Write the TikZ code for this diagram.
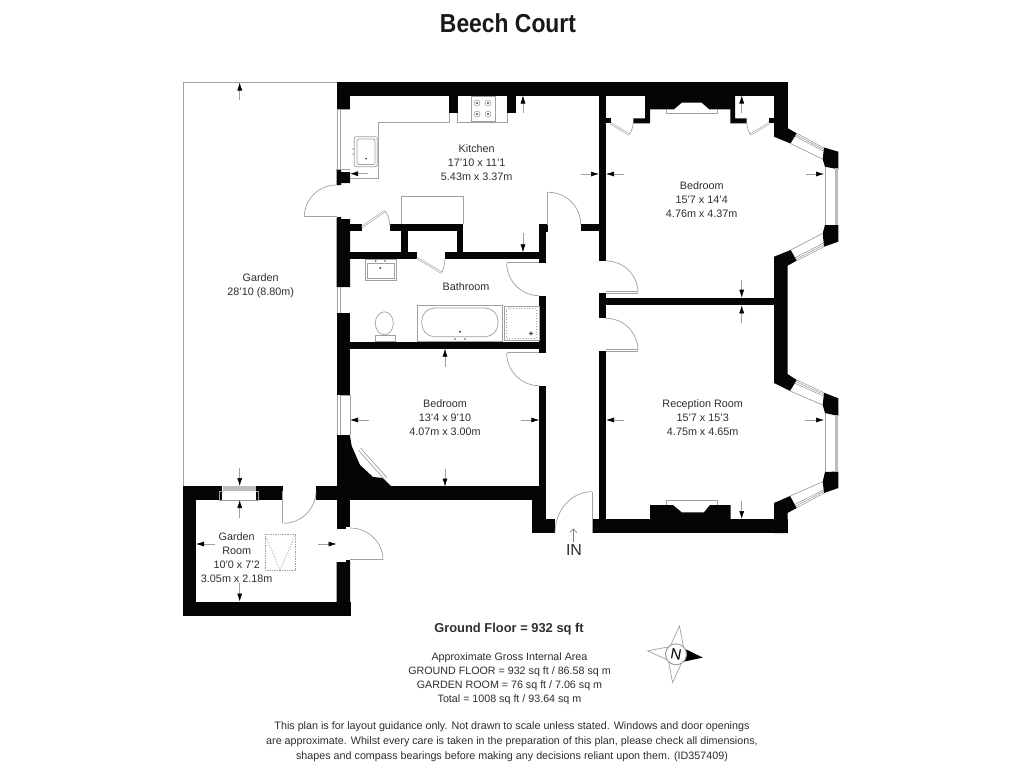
\documentclass[tikz,border=0pt]{standalone}
\usepackage{fontspec}
\setmainfont{Liberation Sans}
\newfontfamily\titlefont[FakeStretch=0.88]{Liberation Sans}
\usepackage{xcolor}
\usetikzlibrary{arrows.meta,calc}
\definecolor{wallblack}{HTML}{050505}
\definecolor{linegrey}{HTML}{A0A0A0}
\definecolor{labelgrey}{HTML}{2E2E2E}
\tikzstyle{wall}=[fill=wallblack]
\tikzstyle{fixture}=[draw=linegrey, line width=.7pt]
\tikzstyle{fixturefine}=[draw=linegrey!80!black, line width=.4pt]
\tikzstyle{leaf}=[draw=linegrey, line width=.6pt, double=white, double distance=.9pt]
\tikzstyle{dimarrow}=[draw=linegrey, line width=.6pt, -{Latex[black,length=8pt,width=5pt]}]
\tikzstyle{roomlabel}=[font=\fontsize{10.8}{14}\selectfont, align=center, text=labelgrey]
\tikzstyle{notelabel}=[font=\fontsize{10.7}{14}\selectfont, align=center, text=labelgrey]
% quarter swing: start, end, corner of the square
\newcommand{\doorswing}[3]{
	\draw[fixture] #1 .. controls ($#1!.5523!#3$) and ($#2!.5523!#3$) .. #2;
}
% bay light: outer ends, then inner ends
\newcommand{\baylight}[4]{
	\draw[fixturefine] #1 -- #2;
	\draw[fixturefine] ($#1!.14!#3$) -- ($#2!.14!#4$);
	\draw[fixturefine] ($#1!.28!#3$) -- ($#2!.28!#4$);
	\draw[fixture] #3 -- #4;
}
\begin{document}
\begin{tikzpicture}[x=1pt,y=-1pt]
	\useasboundingbox (0,0) rectangle (1024,768);
	\fill[white] (0,0) rectangle (1024,768);
	% garden fence
	\draw[fixture] (337,82) -- (183,82) -- (183,487);
	% outer walls
	\fill[wall] (336.5,82) rectangle (787.5,95.5);
	\fill[wall] (336.5,82) rectangle (350,109);
	\fill[wall] (336.5,169) -- (341,169) -- (341,172) -- (350,172) -- (350,183) -- (341,183) -- (341,185) -- (336.5,185) -- cycle;
	\fill[wall] (336.5,217) -- (341,217) -- (341,219) -- (350,219) -- (350,287) -- (336.5,287) -- cycle;
	\fill[wall] (336.5,312.5) rectangle (350,395);
	\fill[wall] (336.5,435) rectangle (350,527);
	\fill[wall] (336.5,527) -- (346,527) -- (346,529) -- (336.5,529) -- cycle;
	\fill[wall] (336.5,562) -- (346,562) -- (346,560) -- (350,560) -- (350,615.5) -- (336.5,615.5) -- cycle;
	% corner chimney of the small bedroom
	\fill[wall] (350,436) -- (351.7,446) -- (360,465) -- (373,477) -- (383,478) -- (392,487) -- (350,487) -- cycle;
	% garden room
	\fill[wall] (182.5,486) rectangle (222,500);
	\fill[wall] (256,486) rectangle (283,500);
	\fill[wall] (316,486) rectangle (532,500);
	\fill[wall] (182.5,486) rectangle (196,615.5);
	\fill[wall] (182.5,601.5) rectangle (350.5,615.5);
	% hall and front door
	\fill[wall] (532,486) rectangle (546,533);
	\fill[wall] (532,519) rectangle (555,533);
	\fill[wall] (539.3,385.7) rectangle (546,490);
	\fill[wall] (592,519) rectangle (787.5,533);
	\fill[wall] (599,350.7) rectangle (606,520);
	% reception hearth
	\fill[wall] (650,505) -- (673,505) -- (681.7,512.3) -- (704,512.3) -- (710,505) -- (730.5,505) -- (730.5,520) -- (650,520) -- cycle;
	\draw[fixture] (666,505) -- (666,500) -- (717,500) -- (717,505);
	% right wall and bays
	\fill[wall] (774,82) rectangle (787.5,136.7);
	\fill[wall] (774,136.7) -- (790.5,143.5) -- (796.7,133.3) -- (787.5,128) -- (774,128) -- cycle;
	\fill[wall] (824,147.5) -- (838.3,151.7) -- (838.3,169.3) -- (825,166.7) -- (822.7,159.3) -- cycle;
	\fill[wall] (825,225) -- (838.3,225) -- (838.3,241.7) -- (824,246.7) -- (822.7,233.3) -- cycle;
	\fill[wall] (774,256.7) -- (790.7,250) -- (796.7,260.7) -- (787.5,265.7) -- (787.5,383) -- (774,383) -- cycle;
	\fill[wall] (774,383) -- (790,391) -- (796.7,380) -- (787.5,374) -- (774,374) -- cycle;
	\fill[wall] (824,392.7) -- (838.3,398.3) -- (838.3,416) -- (825,413) -- (822.7,405) -- cycle;
	\fill[wall] (825,472) -- (838.3,471.5) -- (838.3,488) -- (824,493) -- (822.7,481.7) -- cycle;
	\fill[wall] (774,503) -- (790,496) -- (796.7,508) -- (787.5,513) -- (787.5,533) -- (774,533) -- cycle;
	% bay windows
	\baylight{(796.7,133.3)}{(824,148)}{(790.5,143.5)}{(822.7,159.3)}
	\baylight{(824,246.7)}{(796.7,260.7)}{(822.7,233.3)}{(790.7,250)}
	\baylight{(796.7,380)}{(824,392.7)}{(790,391)}{(822.7,405)}
	\baylight{(824,493)}{(796.7,507.7)}{(822.7,481.7)}{(790,496)}
	\fill[linegrey!70] (834.5,168) rectangle (838.3,225);
	\fill[linegrey!70] (834.5,415) rectangle (838.3,472);
	\draw[fixture] (825,167) -- (825,225);
	\draw[fixture] (825,413) -- (825,472);
	% inner walls
	\fill[wall] (599,95) rectangle (606,261);
	\fill[wall] (580.7,224.3) rectangle (599,231);
	\fill[wall] (599,293) rectangle (606,318.3);
	\fill[wall] (606,297.7) rectangle (774,305.3);
	\fill[wall] (539.3,224.3) rectangle (548,232);
	\fill[wall] (539.3,224.3) rectangle (546,263);
	\fill[wall] (539.3,295.7) rectangle (546,353);
	\fill[wall] (350,252.3) rectangle (401,259);
	\fill[wall] (401,224.3) rectangle (407.7,259);
	\fill[wall] (407.7,252.3) rectangle (416.7,259);
	\fill[wall] (445,252.3) rectangle (539.3,259);
	\fill[wall] (390,224.3) rectangle (463.3,231);
	\fill[wall] (456.7,224.3) rectangle (463.3,259);
	\fill[wall] (350,224.3) rectangle (361.7,231);
	\fill[wall] (350,341.7) rectangle (546,348.7);
	\fill[wall] (449.3,95) rectangle (457.7,113.3);
	\fill[wall] (507.3,95) rectangle (516,113.3);
	% chimney breast and alcoves
	\fill[wall] (645,95) -- (735,95) -- (735,118.3) -- (746.7,118.3) -- (746.7,123.3) -- (730.3,123.3) -- (730.3,109.3) -- (709.3,109.3) -- (701.7,102.7) -- (681.7,102.7) -- (674,109.3) -- (650,109.3) -- (650,123.3) -- (633.3,123.3) -- (633.3,118.3) -- (645,118.3) -- cycle;
	\fill[wall] (606,118.3) rectangle (610.7,123.3);
	\fill[wall] (769,118.3) rectangle (774,123.3);
	\draw[fixture] (666,109.3) -- (666,113.5) -- (717,113.5) -- (717,109.3);
	% doors
	\draw[leaf] (336.5,217) -- (304.3,217);
	\doorswing{(304.3,217)}{(336.5,185)}{(304.3,185)}
	\draw[leaf] (362,227) -- (385,211);
	\doorswing{(385,211)}{(390,226)}{(389,214)}
	\draw[leaf] (417,258) -- (441.7,272.7);
	\doorswing{(441.7,272.7)}{(445,258)}{(445,268)}
	\draw[leaf] (548.3,225) -- (548.3,192.3);
	\doorswing{(548.3,192.3)}{(580.7,224.3)}{(580.7,192.3)}
	\draw[leaf] (539.3,263) -- (506.7,263);
	\doorswing{(506.7,263)}{(539.3,295.7)}{(506.7,295.7)}
	\draw[leaf] (606,292.5) -- (638,292.5);
	\doorswing{(606,261)}{(638,292.5)}{(638,261)}
	\draw[leaf] (606,350.5) -- (638,350.5);
	\doorswing{(606,318.3)}{(638,350.5)}{(638,318.3)}
	\draw[leaf] (539.3,353) -- (506.7,353);
	\doorswing{(506.7,353)}{(539.3,385.7)}{(506.7,385.7)}
	\draw[leaf] (610.7,123.3) -- (629,134.5);
	\doorswing{(629,134.5)}{(633.3,123.3)}{(632.5,131)}
	\draw[leaf] (769,123.3) -- (750.5,134.5);
	\doorswing{(750.5,134.5)}{(746.7,123.3)}{(747.5,131)}
	\draw[leaf] (591.7,491.7) -- (591.7,533);
	\doorswing{(591.7,491.7)}{(555,533)}{(555,491.7)}
	\draw[leaf] (283.3,491) -- (283.3,523.3);
	\doorswing{(283.3,523.3)}{(316,491)}{(316,523.3)}
	\draw[leaf] (350,560) -- (383,560);
	\doorswing{(350,528)}{(383,560)}{(383,528)}
	% windows in the straight walls
	\draw[fixture] (336.5,109) -- (350,109);
	\draw[fixture] (336.5,169) -- (350,169);
	\draw[fixture] (337,109) -- (337,169);
	\draw[fixture] (340.5,109) -- (340.5,169);
	\draw[fixture] (337,287) -- (337,312.5);
	\draw[fixture] (340.5,287) -- (340.5,312.5);
	\draw[fixture] (337,395) -- (337,435);
	\draw[fixture] (340.5,395) -- (340.5,435);
	\draw[fixture] (350,395) -- (350,435);
	\draw[fixture] (340.5,395) -- (350,395);
	\fill[linegrey!70] (222.5,486) rectangle (256,491);
	\draw[fixture] (222.5,491) -- (219.7,491) -- (219.7,500) -- (258,500) -- (258,491) -- (256,491);
	% window in the corner chimney
	\draw[fixture] (358.3,450) -- (384.5,479.5);
	\draw[fixture] (360.5,448) -- (386.7,477.5);
	% kitchen fittings
	\draw[fixture] (449.3,122.7) -- (378.3,122.7) -- (378.3,178.3) -- (350,178.3);
	\draw[fixture] (457.7,113.3) -- (457.7,122.7) -- (507.3,122.7) -- (507.3,113.3);
	\draw[fixture] (449.3,113.3) -- (449.3,122.7);
	\draw[fixture] (471,96.7) rectangle (495.7,121.7);
	\foreach \hobx in {477,488}
		\foreach \hoby in {103,114}{
			\draw[fixturefine] (\hobx,\hoby) circle (3);
			\fill[black!70] (\hobx,\hoby) circle (1.1);
		}
	\draw[fixture, rounded corners=2pt] (354.3,136.7) rectangle (377.3,166.7);
	\draw[fixture, rounded corners=2pt] (357,139) rectangle (375,164.5);
	\fill[black!70] (366,158.7) circle (1);
	\fill[linegrey] (353,149) circle (.8);
	\fill[linegrey] (353,154) circle (.8);
	\draw[fixture] (401,224.3) -- (401,196.7) -- (463.3,196.7) -- (463.3,224.3);
	% bathroom fittings
	\draw[fixture] (365,259) rectangle (396.7,280);
	\draw[fixture] (367,263) rectangle (394.5,278);
	\fill[black!70] (375.7,261) circle (.8);
	\fill[black!70] (385,261) circle (.8);
	\fill[black!70] (380.3,268) circle (1.1);
	\draw[fixture] (384.3,323.3) ellipse (9 and 11.5);
	\draw[fixture] (375,335.7) rectangle (395.7,341.7);
	\draw[fixture] (417.3,305.3) rectangle (502.3,341.7);
	\draw[fixture, rounded corners=13pt] (421.7,308) rectangle (498,336.7);
	\fill[black!70] (460,331.7) circle (1.2);
	\fill[black!70] (455,339) circle (.8);
	\fill[black!70] (465,339) circle (.8);
	\draw[fixture] (504,306) rectangle (539,340.7);
	\draw[fixture, dotted] (506.5,308.5) rectangle (536,338);
	\draw[black!70, line width=.4pt] (531,333.5) circle (1.8);
	\fill[black] (531,333.5) circle (.8);
	% garden room rooflight
	\draw[fixture, densely dotted] (265,534.3) rectangle (295.7,570);
	\draw[fixture, densely dotted] (265,534.3) -- (280,570) -- (295.7,534.3);
	% dimension arrows
	\draw[dimarrow] (239.7,100) -- (239.7,82.5);
	\draw[dimarrow] (368,173.7) -- (350,173.7);
	\draw[dimarrow] (523,113) -- (523,95.5);
	\draw[dimarrow] (523,233) -- (523,252.3);
	\draw[dimarrow] (580.7,174) -- (599,174);
	\draw[dimarrow] (624,174) -- (606,174);
	\draw[dimarrow] (806,174) -- (824,174);
	\draw[dimarrow] (741.7,113) -- (741.7,95.5);
	\draw[dimarrow] (741.7,280) -- (741.7,297.7);
	\draw[dimarrow] (741.7,323) -- (741.7,305.3);
	\draw[dimarrow] (741.7,501) -- (741.7,519);
	\draw[dimarrow] (624,420) -- (606,420);
	\draw[dimarrow] (805,420) -- (824,420);
	\draw[dimarrow] (445,367) -- (445,348.7);
	\draw[dimarrow] (445,468.7) -- (445,486.5);
	\draw[dimarrow] (369,420) -- (350,420);
	\draw[dimarrow] (520.7,420) -- (539.3,420);
	\draw[dimarrow] (239.7,468) -- (239.7,486);
	\draw[dimarrow] (239.7,518) -- (239.7,500);
	\draw[dimarrow] (214.7,544) -- (196,544);
	\draw[dimarrow] (318,544) -- (336.5,544);
	\draw[dimarrow] (239.7,583) -- (239.7,601.5);
	\draw[draw=linegrey!80!black, line width=.6pt, -{Straight Barb[length=4pt,width=7pt]}] (573.3,542) -- (573.3,528.3);
	% room labels
	\node[roomlabel] (kitchen) at (476.7,163) {Kitchen\\17'10 x 11'1\\5.43m x 3.37m};
	\node[roomlabel] (bedroomeast) at (701.7,200) {Bedroom\\15'7 x 14'4\\4.76m x 4.37m};
	\node[roomlabel] (bathroom) at (466,286.5) {Bathroom};
	\node[roomlabel] (garden) at (260.7,286) {Garden\\28'10 (8.80m)};
	\node[roomlabel] (bedroomwest) at (445,418) {Bedroom\\13'4 x 9'10\\4.07m x 3.00m};
	\node[roomlabel] (reception) at (702.7,418) {Reception Room\\15'7 x 15'3\\4.75m x 4.65m};
	\node[roomlabel, inner sep=0pt] (gardenroom) at (236.7,557.5) {Garden\\Room\\10'0 x 7'2\\3.05m x 2.18m};
	\node[text=labelgrey, font=\fontsize{16}{18}\selectfont] (entry) at (574,550) {IN};
	% headings and notes
	\node[font=\titlefont\bfseries\fontsize{26}{28}\selectfont, text=black!90] (title) at (508,23.5) {Beech Court};
	\node[font=\bfseries\fontsize{12.9}{14}\selectfont, text=labelgrey] (floorarea) at (509,629) {Ground Floor = 932 sq ft};
	\node[notelabel] (areas) at (509.5,679) {Approximate Gross Internal Area\\GROUND FLOOR = 932 sq ft / 86.58 sq m\\GARDEN ROOM = 76 sq ft / 7.06 sq m\\Total = 1008 sq ft / 93.64 sq m};
	\node[notelabel, font=\fontsize{10.75}{15}\selectfont] (disclaimer) at (512,742) {This plan is for layout guidance only. Not drawn to scale unless stated. Windows and door openings\\are approximate. Whilst every care is taken in the preparation of this plan, please check all dimensions,\\shapes and compass bearings before making any decisions reliant upon them. (ID357409)};
	% compass
	\begin{scope}[shift={(676,654.3)},rotate=-7]
		\foreach \compassdir in {90,180,270}
			\draw[fixture, fill=white] (\compassdir:28.5) -- (\compassdir+38:10.5) -- (\compassdir-38:10.5) -- cycle;
		\fill[black] (27,0) -- (38:10.5) -- (-38:10.5) -- cycle;
		\draw[fixture, line width=1pt, fill=white] (0,0) circle (10.5);
		\node[font=\fontsize{15}{15}\selectfont, rotate=-10, inner sep=0pt] (north) at (0,0) {N};
	\end{scope}
\end{tikzpicture}
\end{document}
